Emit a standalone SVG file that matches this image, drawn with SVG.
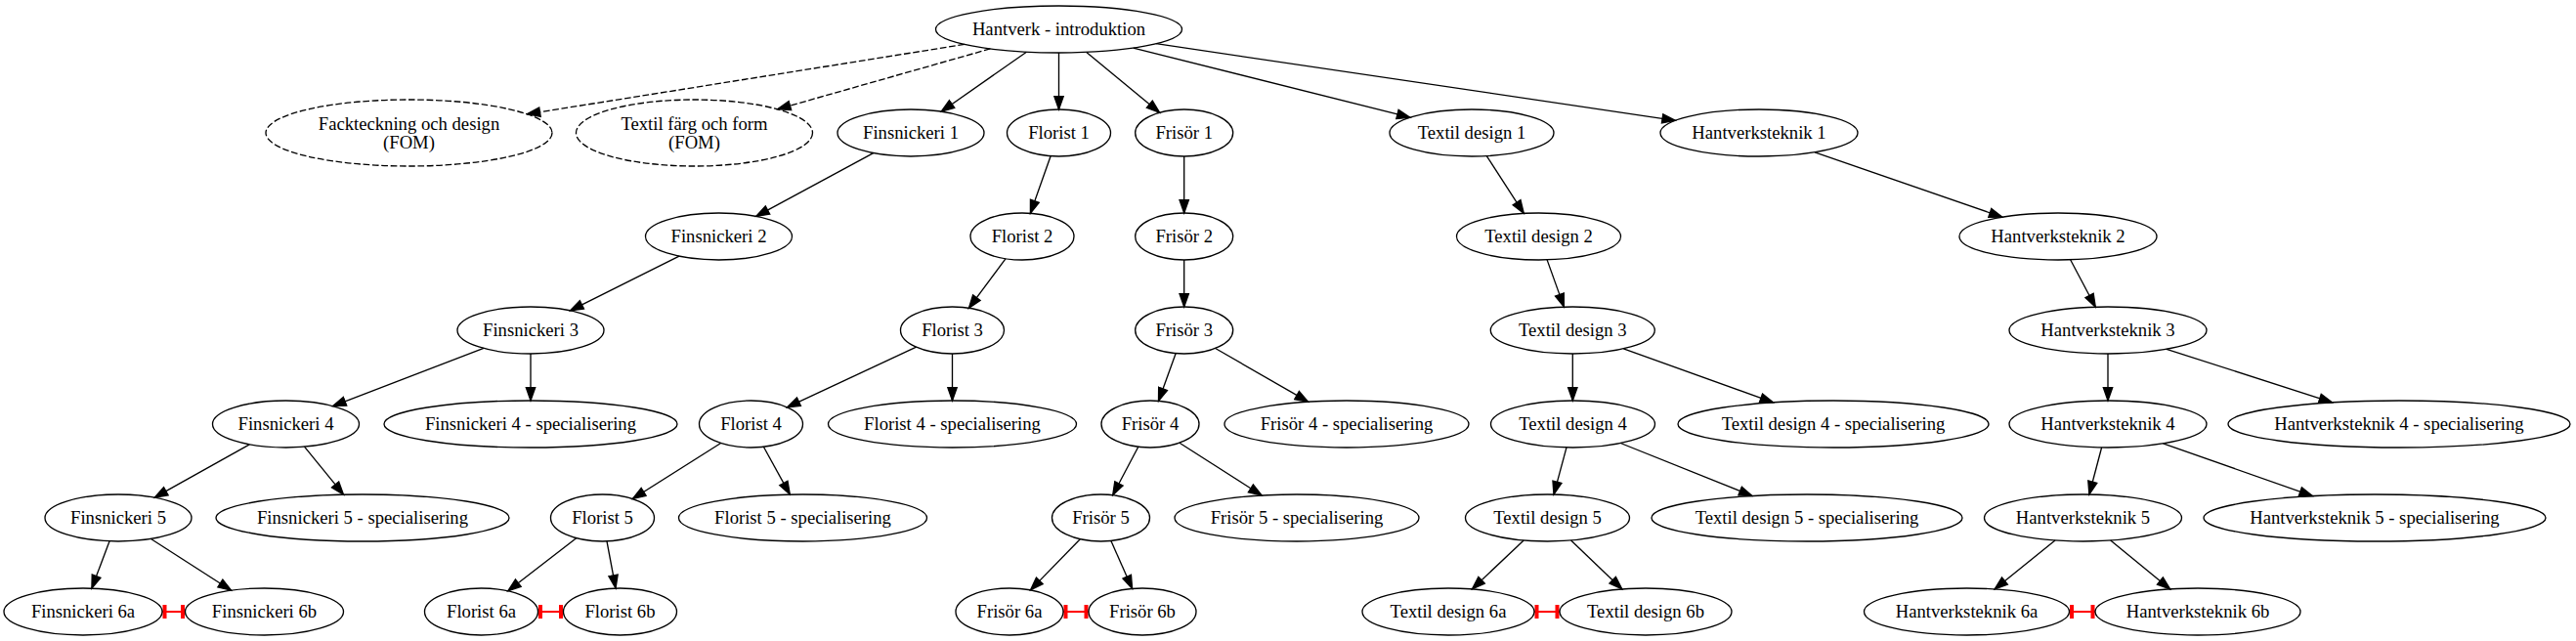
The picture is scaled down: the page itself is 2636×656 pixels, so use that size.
<svg xmlns="http://www.w3.org/2000/svg" width="2636" height="656" viewBox="0 0 2636 656">
<style>
.n ellipse{fill:none;stroke:#000;stroke-width:1.33}
.d ellipse{stroke-dasharray:6.67,2.67}
text{font-family:"Liberation Serif","Times New Roman",serif;font-size:18.67px;text-anchor:middle;fill:#000}
.e path{fill:none;stroke:#000;stroke-width:1.33;marker-end:url(#arr)}
.e path.ds{stroke-dasharray:6.67,2.67}
.t path{fill:none;stroke:#ff0000;stroke-width:2;marker-start:url(#tee);marker-end:url(#tee)}
</style>
<defs>
<marker id="arr" markerUnits="userSpaceOnUse" markerWidth="16" markerHeight="12" viewBox="-1 -1 16 12" refX="13.33" refY="5" orient="auto">
<path d="M0,0.33 L13.33,5 L0,9.67 Z" fill="#000" stroke="#000" stroke-width="1.33"/>
</marker>
<marker id="tee" markerUnits="userSpaceOnUse" markerWidth="8" markerHeight="18" viewBox="0 0 8 18" refX="6" refY="9" orient="auto-start-reverse">
<rect x="1.5" y="2" width="4" height="14" fill="#ff0000"/>
</marker>
</defs>
<g id="edges" class="e">
<path class="ds" d="M986.9,45.4 L539.3,116.8"/>
<path class="ds" d="M1013.4,49.9 L795.6,111.8"/>
<path d="M1050.4,53.2 L963.2,114.2"/>
<path d="M1083.5,54 L1083.5,112"/>
<path d="M1111.8,53.4 L1186.6,115.2"/>
<path d="M1159.7,49.1 L1442.9,120.2"/>
<path d="M1183.0,44.7 L1714.3,123.3"/>
<path d="M893.7,156.6 L773.8,221.4"/>
<path d="M695.0,262.2 L583.5,317.8"/>
<path d="M494.9,356.4 L340.6,415.6"/>
<path d="M543,362 L543,410"/>
<path d="M255.3,454.8 L158.2,509.2"/>
<path d="M311.5,457.2 L351.5,506.2"/>
<path d="M112.1,553.8 L93.9,602.1"/>
<path d="M154.5,551.5 L236.6,604.2"/>
<path d="M1075.1,159.7 L1054.4,218.3"/>
<path d="M1029.1,264.7 L991.4,315.3"/>
<path d="M937.6,355.2 L805.4,416.8"/>
<path d="M974.5,362 L974.5,410"/>
<path d="M737.6,453.5 L647.4,510.5"/>
<path d="M781.4,457.3 L808.3,506.1"/>
<path d="M589.7,550.7 L519.8,604.8"/>
<path d="M621.0,553.9 L630.0,602.1"/>
<path d="M1211.7,160 L1211.7,218"/>
<path d="M1211.7,266 L1211.7,314"/>
<path d="M1203.2,361.6 L1185.5,410.4"/>
<path d="M1243.7,356.5 L1338.6,411.2"/>
<path d="M1164.8,457.3 L1138.7,506.7"/>
<path d="M1207,453.2 L1291.1,507.0"/>
<path d="M1105.3,551.7 L1054.5,603.9"/>
<path d="M1136.9,553.5 L1158.6,602.4"/>
<path d="M1521.3,159.6 L1559.3,218.4"/>
<path d="M1583.1,265.9 L1600.4,314.1"/>
<path d="M1609.3,362 L1609.3,410"/>
<path d="M1661.3,356.8 L1814.5,411.9"/>
<path d="M1603.0,457.9 L1590.0,506.1"/>
<path d="M1658.3,453.5 L1793.0,507.5"/>
<path d="M1559.2,553.0 L1506.4,602.9"/>
<path d="M1607.6,553.0 L1659.8,602.9"/>
<path d="M1857.1,155.8 L2048.9,222.2"/>
<path d="M2118.6,265.8 L2144.3,314.2"/>
<path d="M2157,362 L2157,410"/>
<path d="M2217.0,357.3 L2386.5,411.9"/>
<path d="M2150.6,458.0 L2137.9,506.0"/>
<path d="M2213.5,453.9 L2366.4,507.6"/>
<path d="M2103.0,553.0 L2041.1,602.9"/>
<path d="M2159.7,553.0 L2220.7,602.9"/>
</g>
<g id="links" class="t">
<path d="M166,626 L189.5,626"/>
<path d="M550.5,626 L576.5,626"/>
<path d="M1088,626 L1114,626"/>
<path d="M1570,626 L1596,626"/>
<path d="M2117.5,626 L2144,626"/>
</g>
<g id="root" class="n"><ellipse cx="1083.5" cy="30" rx="126" ry="24"/><text x="1083.5" y="36">Hantverk - introduktion</text></g>
<g id="fom1" class="n d"><ellipse cx="418.5" cy="136" rx="146.5" ry="34"/><text x="418.5" y="133">Fackteckning och design</text><text x="418.5" y="151.5">(FOM)</text></g>
<g id="fom2" class="n d"><ellipse cx="710.5" cy="136" rx="121" ry="34"/><text x="710.5" y="133">Textil färg och form</text><text x="710.5" y="151.5">(FOM)</text></g>
<g id="fin1" class="n"><ellipse cx="932" cy="136" rx="75" ry="24"/><text x="932" y="142">Finsnickeri 1</text></g>
<g id="flo1" class="n"><ellipse cx="1083.5" cy="136" rx="53" ry="24"/><text x="1083.5" y="142">Florist 1</text></g>
<g id="fri1" class="n"><ellipse cx="1211.7" cy="136" rx="50" ry="24"/><text x="1211.7" y="142">Frisör 1</text></g>
<g id="tex1" class="n"><ellipse cx="1506" cy="136" rx="84" ry="24"/><text x="1506" y="142">Textil design 1</text></g>
<g id="han1" class="n"><ellipse cx="1800" cy="136" rx="101" ry="24"/><text x="1800" y="142">Hantverksteknik 1</text></g>
<g id="fin2" class="n"><ellipse cx="735.5" cy="242" rx="75" ry="24"/><text x="735.5" y="248">Finsnickeri 2</text></g>
<g id="flo2" class="n"><ellipse cx="1046" cy="242" rx="53" ry="24"/><text x="1046" y="248">Florist 2</text></g>
<g id="fri2" class="n"><ellipse cx="1211.7" cy="242" rx="50" ry="24"/><text x="1211.7" y="248">Frisör 2</text></g>
<g id="tex2" class="n"><ellipse cx="1574.5" cy="242" rx="84" ry="24"/><text x="1574.5" y="248">Textil design 2</text></g>
<g id="han2" class="n"><ellipse cx="2106" cy="242" rx="101" ry="24"/><text x="2106" y="248">Hantverksteknik 2</text></g>
<g id="fin3" class="n"><ellipse cx="543" cy="338" rx="75" ry="24"/><text x="543" y="344">Finsnickeri 3</text></g>
<g id="flo3" class="n"><ellipse cx="974.5" cy="338" rx="53" ry="24"/><text x="974.5" y="344">Florist 3</text></g>
<g id="fri3" class="n"><ellipse cx="1211.7" cy="338" rx="50" ry="24"/><text x="1211.7" y="344">Frisör 3</text></g>
<g id="tex3" class="n"><ellipse cx="1609.3" cy="338" rx="84" ry="24"/><text x="1609.3" y="344">Textil design 3</text></g>
<g id="han3" class="n"><ellipse cx="2157" cy="338" rx="101" ry="24"/><text x="2157" y="344">Hantverksteknik 3</text></g>
<g id="fin4" class="n"><ellipse cx="292.5" cy="434" rx="75" ry="24"/><text x="292.5" y="440">Finsnickeri 4</text></g>
<g id="fin4s" class="n"><ellipse cx="543" cy="434" rx="150" ry="24"/><text x="543" y="440">Finsnickeri 4 - specialisering</text></g>
<g id="flo4" class="n"><ellipse cx="768.5" cy="434" rx="53" ry="24"/><text x="768.5" y="440">Florist 4</text></g>
<g id="flo4s" class="n"><ellipse cx="974.5" cy="434" rx="127" ry="24"/><text x="974.5" y="440">Florist 4 - specialisering</text></g>
<g id="fri4" class="n"><ellipse cx="1177" cy="434" rx="50" ry="24"/><text x="1177" y="440">Frisör 4</text></g>
<g id="fri4s" class="n"><ellipse cx="1378" cy="434" rx="125" ry="24"/><text x="1378" y="440">Frisör 4 - specialisering</text></g>
<g id="tex4" class="n"><ellipse cx="1609.5" cy="434" rx="84" ry="24"/><text x="1609.5" y="440">Textil design 4</text></g>
<g id="tex4s" class="n"><ellipse cx="1876" cy="434" rx="159" ry="24"/><text x="1876" y="440">Textil design 4 - specialisering</text></g>
<g id="han4" class="n"><ellipse cx="2157" cy="434" rx="101" ry="24"/><text x="2157" y="440">Hantverksteknik 4</text></g>
<g id="han4s" class="n"><ellipse cx="2455" cy="434" rx="175" ry="24"/><text x="2455" y="440">Hantverksteknik 4 - specialisering</text></g>
<g id="fin5" class="n"><ellipse cx="121" cy="530" rx="75" ry="24"/><text x="121" y="536">Finsnickeri 5</text></g>
<g id="fin5s" class="n"><ellipse cx="371" cy="530" rx="150" ry="24"/><text x="371" y="536">Finsnickeri 5 - specialisering</text></g>
<g id="flo5" class="n"><ellipse cx="616.5" cy="530" rx="53" ry="24"/><text x="616.5" y="536">Florist 5</text></g>
<g id="flo5s" class="n"><ellipse cx="821.5" cy="530" rx="127" ry="24"/><text x="821.5" y="536">Florist 5 - specialisering</text></g>
<g id="fri5" class="n"><ellipse cx="1126.5" cy="530" rx="50" ry="24"/><text x="1126.5" y="536">Frisör 5</text></g>
<g id="fri5s" class="n"><ellipse cx="1327" cy="530" rx="125" ry="24"/><text x="1327" y="536">Frisör 5 - specialisering</text></g>
<g id="tex5" class="n"><ellipse cx="1583.5" cy="530" rx="84" ry="24"/><text x="1583.5" y="536">Textil design 5</text></g>
<g id="tex5s" class="n"><ellipse cx="1849" cy="530" rx="159" ry="24"/><text x="1849" y="536">Textil design 5 - specialisering</text></g>
<g id="han5" class="n"><ellipse cx="2131.5" cy="530" rx="101" ry="24"/><text x="2131.5" y="536">Hantverksteknik 5</text></g>
<g id="han5s" class="n"><ellipse cx="2430" cy="530" rx="175" ry="24"/><text x="2430" y="536">Hantverksteknik 5 - specialisering</text></g>
<g id="fin6a" class="n"><ellipse cx="85" cy="626" rx="81" ry="24"/><text x="85" y="632">Finsnickeri 6a</text></g>
<g id="fin6b" class="n"><ellipse cx="270.5" cy="626" rx="81" ry="24"/><text x="270.5" y="632">Finsnickeri 6b</text></g>
<g id="flo6a" class="n"><ellipse cx="492.5" cy="626" rx="58" ry="24"/><text x="492.5" y="632">Florist 6a</text></g>
<g id="flo6b" class="n"><ellipse cx="634.5" cy="626" rx="58" ry="24"/><text x="634.5" y="632">Florist 6b</text></g>
<g id="fri6a" class="n"><ellipse cx="1033" cy="626" rx="55" ry="24"/><text x="1033" y="632">Frisör 6a</text></g>
<g id="fri6b" class="n"><ellipse cx="1169" cy="626" rx="55" ry="24"/><text x="1169" y="632">Frisör 6b</text></g>
<g id="tex6a" class="n"><ellipse cx="1482" cy="626" rx="88" ry="24"/><text x="1482" y="632">Textil design 6a</text></g>
<g id="tex6b" class="n"><ellipse cx="1684" cy="626" rx="88" ry="24"/><text x="1684" y="632">Textil design 6b</text></g>
<g id="han6a" class="n"><ellipse cx="2012.5" cy="626" rx="105" ry="24"/><text x="2012.5" y="632">Hantverksteknik 6a</text></g>
<g id="han6b" class="n"><ellipse cx="2249" cy="626" rx="105" ry="24"/><text x="2249" y="632">Hantverksteknik 6b</text></g>
</svg>
